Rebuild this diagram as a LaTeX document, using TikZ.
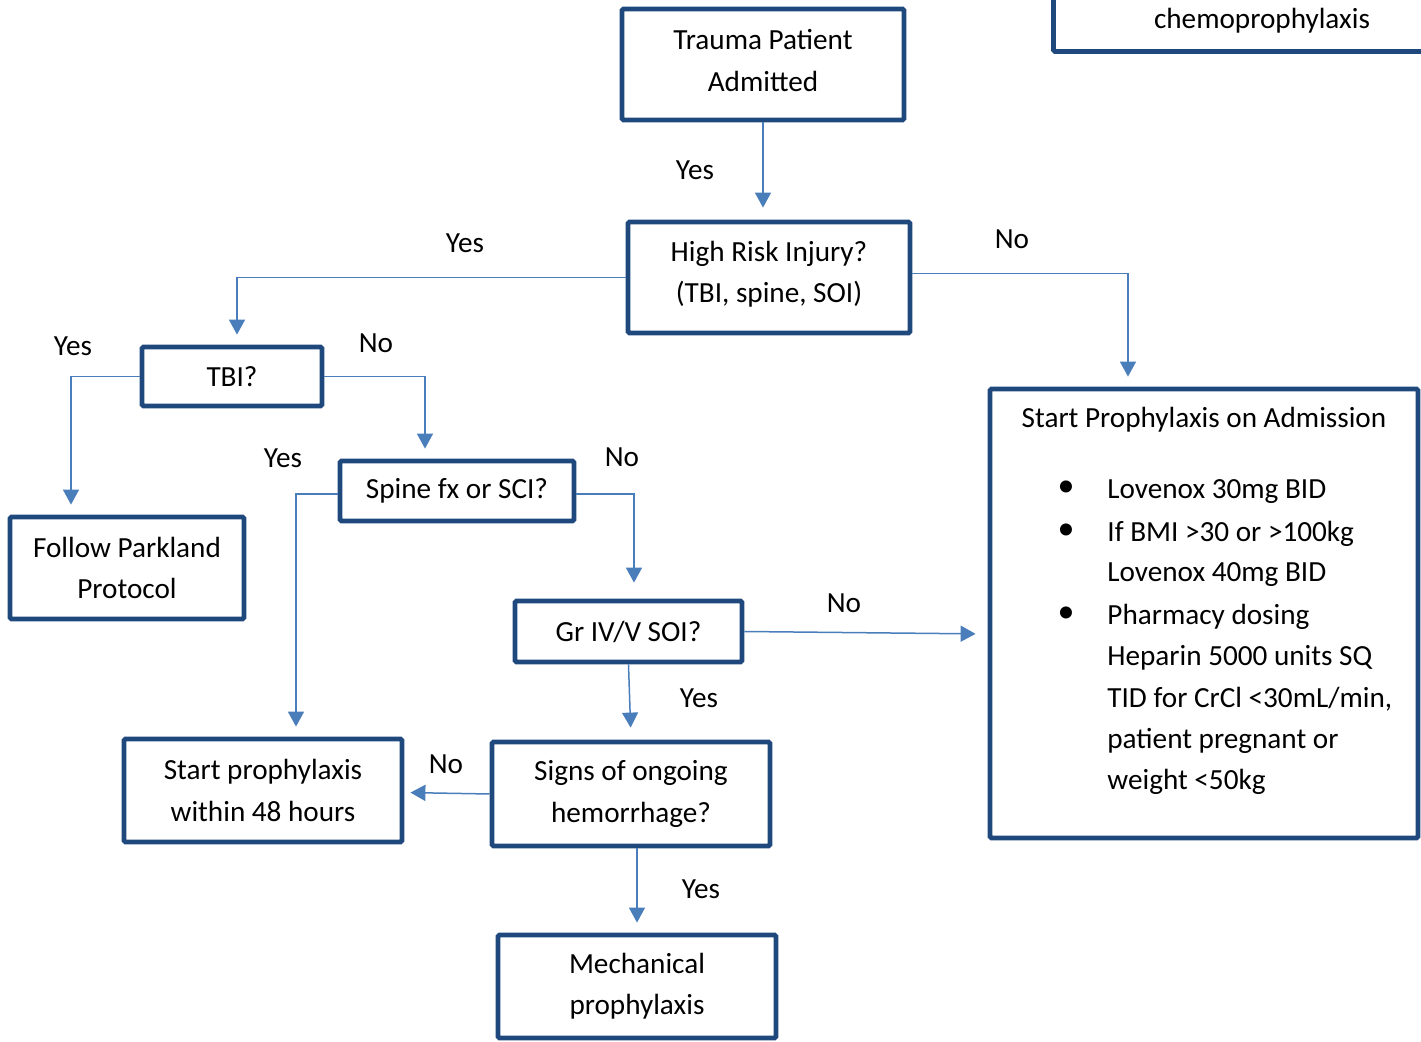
\documentclass[tikz,border=0pt]{standalone}
\usepackage{fontspec}
\setmainfont{Carlito}
\usetikzlibrary{arrows.meta,positioning}
\definecolor{BoxClr}{RGB}{31,73,125}
\definecolor{LineClr}{RGB}{74,126,187}

\tikzset{
  stepbox/.style={draw=BoxClr,line width=2.4pt,align=center,inner sep=0pt,rounded corners=0.8pt},
  conn/.style={draw=LineClr,line width=0.75pt,-{Triangle[width=8pt,length=7.5pt]},shorten >=5pt},
  lbl/.style={inner sep=0pt},
}

\begin{document}
\begin{tikzpicture}[x=0.5pt,y=-0.5pt,font=\fontsize{14.6}{20.6}\selectfont]
\clip (0,0) rectangle (1421,1042);
\useasboundingbox (0,0) rectangle (1421,1042);

% boxes
\node[stepbox,minimum width=141pt,minimum height=55.5pt,text depth=4pt] (trauma) at (763,64.5) {Trauma Patient\\Admitted};
\node[stepbox,minimum width=141pt,minimum height=55.5pt,text depth=5.8pt] (risk) at (769,277.5) {High Risk Injury?\\(TBI, spine, SOI)};
\node[stepbox,minimum width=90pt,minimum height=29.5pt] (tbi) at (232,376.5) {TBI?};
\node[stepbox,minimum width=117pt,minimum height=51pt] (parkland) at (127,568) {Follow Parkland\\Protocol};
\node[stepbox,minimum width=117pt,minimum height=30pt] (spine) at (457,491) {Spine fx or SCI?};
\node[stepbox,minimum width=113.5pt,minimum height=30.5pt] (grade) at (628.5,631.5) {Gr IV/V SOI?};
\node[stepbox,minimum width=139pt,minimum height=51.5pt] (within) at (263,790.5) {Start prophylaxis\\within 48 hours};
\node[stepbox,minimum width=139pt,minimum height=52pt] (signs) at (631,794) {Signs of ongoing\\hemorrhage?};
\node[stepbox,minimum width=139pt,minimum height=51.5pt] (mech) at (637,986.5) {Mechanical\\prophylaxis};
\node[stepbox,minimum width=214pt,minimum height=224.5pt] (admit) at (1204,613.5) {};
\node[stepbox,minimum width=212pt,minimum height=70pt,anchor=south west] (chemo) at (1051,54) {};
\node[lbl] (chemotxt) at (1262,21) {chemoprophylaxis};

% text of the admission box
\node[lbl] (admtitle) at (1204,420) {Start Prophylaxis on Admission};
\foreach \y/\t [count=\i] in {489/Lovenox 30mg BID,532/If BMI >30 or >100kg,572/Lovenox 40mg BID,
  615/Pharmacy dosing,656/Heparin 5000 units SQ,698/{TID for CrCl <30mL/min,},
  739/patient pregnant or,780/weight <50kg}
  \node[lbl,anchor=base west] (adm\i) at (1107,{\y+9.5}) {\t};
\foreach \y [count=\i] in {489,532,615}
  \node[lbl] (bul\i) at (1066,\y) {\fontsize{17}{17}\selectfont •};

% connectors
\draw[conn,shorten >=6pt] (trauma.south) -- (trauma.south |- risk.north);
\draw[conn] (risk.west) -| ([xshift=2.5pt]tbi.north);
\draw[conn] ([yshift=2pt]risk.east) -| ([xshift=-38pt]admit.north);
\draw[conn] (tbi.west) -| ([xshift=-28pt]parkland.north);
\draw[conn] (tbi.east) -| ([xshift=-16pt]spine.north);
\draw[conn] ([yshift=-1.5pt]spine.west) -| ([xshift=16.5pt]within.north);
\draw[conn,shorten >=8pt] ([yshift=-1.5pt]spine.east) -| ([xshift=2.75pt]grade.north);
\draw[conn,shorten >=6pt] (grade.east) -- ([yshift=-10.25pt]admit.west);
\draw[conn,shorten >=6pt] (grade.south) -- (signs.north);
\draw[conn,shorten >=3pt] (signs.west) -- ([yshift=-1pt]within.east);
\draw[conn] ([xshift=3pt]signs.south) -- ([xshift=0pt]mech.north);

% labels
\node[lbl] (l1) at (695,170) {Yes};
\node[lbl] (l2) at (465,243) {Yes};
\node[lbl] (l3) at (1012,239) {No};
\node[lbl] (l4) at (73,346) {Yes};
\node[lbl] (l5) at (376,343) {No};
\node[lbl] (l6) at (283,458) {Yes};
\node[lbl] (l7) at (622,457) {No};
\node[lbl] (l8) at (844,603) {No};
\node[lbl] (l9) at (699,698) {Yes};
\node[lbl] (l10) at (446,764) {No};
\node[lbl] (l11) at (701,889) {Yes};
\end{tikzpicture}
\end{document}
